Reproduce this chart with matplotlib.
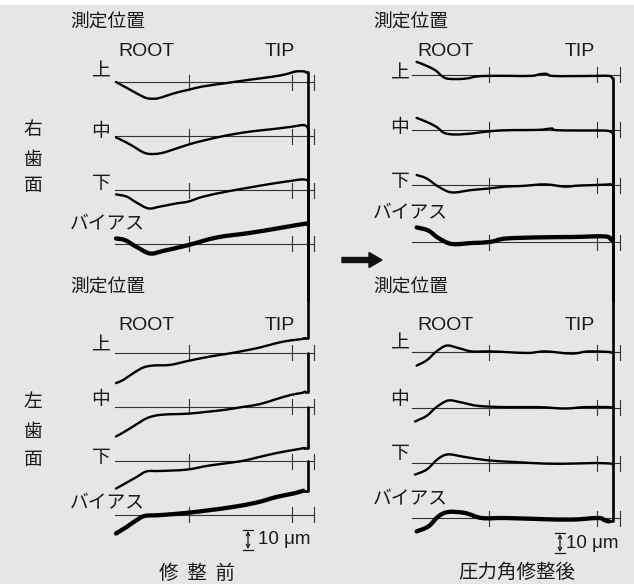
#!/usr/bin/env python3
"""Tooth profile traces before / after pressure angle correction."""

import numpy as np
import matplotlib
matplotlib.use("Agg")
import matplotlib.pyplot as plt
from matplotlib.patches import Rectangle, FancyArrow, PathPatch
from matplotlib.path import Path

JP = ["Noto Sans CJK JP", "DejaVu Sans"]
LAT = ["Liberation Sans", "Noto Sans CJK JP"]
INK = "#1a1a1a"

ROWS = ["上", "中", "下", "バイアス"]
TICKS_U = [0.37, 0.89, 1.0]

# profile deviation (um, + = up) along the roll length (0 = ROOT side, 1 = end)
# ---- before correction, right flank
pos_b_r_top = [0.0, 0.07, 0.14, 0.17, 0.21, 0.26, 0.31, 0.37, 0.44, 0.56, 0.68, 0.78, 0.85, 0.89, 0.91, 0.95, 0.96]
dev_b_r_top = [0.0, -3.8, -7.5, -8.3, -8.2, -6.7, -5.2, -3.8, -2.2, -0.5, 1.2, 2.5, 3.7, 4.8, 5.3, 5.3, 4.8]
pos_b_r_mid = [0.0, 0.054, 0.104, 0.138, 0.172, 0.222, 0.273, 0.365, 0.441, 0.559, 0.677, 0.778, 0.862, 0.912, 0.946, 0.966]
dev_b_r_mid = [-0.7, -3.3, -6.2, -8.2, -9.0, -8.7, -7.3, -4.3, -2.3, 0.3, 2.2, 3.3, 4.3, 5.0, 5.5, 4.7]
pos_b_r_low = [0.0, 0.054, 0.104, 0.163, 0.222, 0.306, 0.365, 0.441, 0.559, 0.677, 0.778, 0.879, 0.938, 0.963]
dev_b_r_low = [-2.2, -3.3, -6.3, -9.2, -8.3, -6.7, -5.8, -3.3, -0.8, 1.3, 3.0, 4.5, 5.3, 5.0]
pos_b_r_bias = [0.0, 0.045, 0.104, 0.172, 0.239, 0.365, 0.508, 0.677, 0.812, 0.912, 0.963]
dev_b_r_bias = [2.5, 1.7, -1.7, -5.0, -3.7, -0.8, 3.0, 5.3, 7.5, 9.2, 10.0]
# ---- before correction, left flank
pos_b_l_top = [0.0, 0.037, 0.088, 0.138, 0.189, 0.273, 0.365, 0.475, 0.559, 0.643, 0.727, 0.811, 0.879, 0.938, 0.951]
dev_b_l_top = [-15.3, -13.7, -10.3, -7.5, -6.5, -6.2, -4.2, -2.0, -0.7, 0.8, 2.5, 4.7, 6.0, 6.7, 7.2]
pos_b_l_mid = [0.0, 0.045, 0.086, 0.157, 0.222, 0.308, 0.374, 0.475, 0.561, 0.641, 0.727, 0.813, 0.884, 0.939, 0.955]
dev_b_l_mid = [-15.0, -12.5, -10.0, -5.8, -4.2, -3.8, -3.5, -2.5, -1.5, -0.2, 1.2, 3.8, 5.8, 6.8, 7.5]
pos_b_l_low = [0.0, 0.054, 0.104, 0.155, 0.222, 0.357, 0.475, 0.626, 0.711, 0.812, 0.913, 0.951]
dev_b_l_low = [-13.8, -10.8, -8.0, -5.2, -5.0, -4.3, -2.2, -0.2, 1.7, 4.0, 5.8, 6.5]
pos_b_l_bias = [0.0, 0.054, 0.104, 0.146, 0.222, 0.357, 0.475, 0.593, 0.711, 0.812, 0.896, 0.946]
dev_b_l_bias = [-9.5, -6.2, -2.8, -0.7, -0.3, 0.8, 2.2, 3.8, 6.0, 8.8, 10.5, 11.9]
# ---- after correction, right flank
pos_a_r_top = [0.02, 0.06, 0.109, 0.141, 0.165, 0.205, 0.262, 0.31, 0.374, 0.479, 0.576, 0.618, 0.648, 0.672, 0.769, 0.893, 0.95, 0.965]
dev_a_r_top = [6.3, 4.7, 2.2, -0.7, -2.0, -2.3, -2.0, -1.0, -0.7, -0.7, -0.7, 0.2, 0.3, -0.7, -0.8, -0.7, -0.7, -1.7]
pos_a_r_mid = [0.02, 0.068, 0.116, 0.153, 0.205, 0.286, 0.379, 0.479, 0.608, 0.672, 0.689, 0.8, 0.897, 0.946, 0.962]
dev_a_r_mid = [5.8, 3.8, 1.3, -1.7, -2.5, -2.0, -0.8, -0.3, -0.2, 0.5, -0.3, -0.5, -0.5, -0.7, -1.5]
pos_a_r_low = [0.02, 0.068, 0.125, 0.19, 0.286, 0.374, 0.447, 0.527, 0.64, 0.737, 0.8, 0.889, 0.953]
dev_a_r_low = [5.0, 3.3, -0.8, -3.7, -2.5, -1.7, -0.8, -0.5, 0.3, -0.8, -0.3, 0.0, 0.3]
pos_a_r_bias = [0.02, 0.077, 0.125, 0.19, 0.286, 0.374, 0.447, 0.608, 0.769, 0.93, 0.959]
dev_a_r_bias = [7.3, 5.7, 2.0, -1.0, -0.5, 0.0, 1.7, 2.3, 2.5, 2.8, 1.2]
# ---- after correction, left flank
pos_a_l_top = [0.02, 0.068, 0.116, 0.165, 0.221, 0.286, 0.374, 0.447, 0.559, 0.64, 0.769, 0.849, 0.953]
dev_a_l_top = [-6.8, -4.2, 0.3, 3.2, 2.0, 0.3, 0.3, 0.0, -0.5, 0.3, -0.8, 0.3, 0.0]
pos_a_l_mid = [0.012, 0.068, 0.116, 0.173, 0.237, 0.318, 0.447, 0.608, 0.737, 0.833, 0.953]
dev_a_l_mid = [-7.0, -4.2, 0.2, 3.5, 2.5, 0.8, 0.2, 0.2, -0.5, 0.2, 0.2]
pos_a_l_low = [0.012, 0.068, 0.125, 0.173, 0.254, 0.366, 0.495, 0.64, 0.769, 0.882, 0.962]
dev_a_l_low = [-5.8, -3.3, 2.2, 4.3, 3.0, 1.3, 0.5, -0.3, -0.3, 0.0, -0.3]
pos_a_l_bias = [0.02, 0.077, 0.125, 0.173, 0.254, 0.334, 0.447, 0.608, 0.769, 0.897, 0.93, 0.95]
dev_a_l_bias = [-6.7, -4.2, 0.8, 3.0, 2.5, 0.0, 0.0, -0.5, -0.8, 0.0, -1.2, -1.7]

# layout (pixels)
W, H = 634, 584
PX_PER_UM = 2.0
TAIL_U = 0.97
JOIN_Y = 300
FS = 13.5


def smooth_path(xs, ys):
    # Catmull-Rom through the read points, drawn as cubic Bezier segments
    pts = np.column_stack([xs, ys])
    n = len(pts)
    verts = [pts[0]]
    codes = [Path.MOVETO]
    for i in range(n - 1):
        p0 = pts[i - 1] if i > 0 else pts[i]
        p1 = pts[i]
        p2 = pts[i + 1]
        p3 = pts[i + 2] if i + 2 < n else pts[i + 1]
        verts += [p1 + (p2 - p0) / 6, p2 - (p3 - p1) / 6, p2]
        codes += [Path.CURVE4] * 3
    return Path(verts, codes)


def draw_trace(ax, x0, width, base, pos, dev, lw, tail_to):
    xs = [x0 + u * width for u in pos]
    ys = [base - d * PX_PER_UM for d in dev]
    ax.add_patch(PathPatch(smooth_path(xs, ys), fill=False, edgecolor="black",
                           lw=lw, capstyle="round", joinstyle="round", zorder=3))
    xt = x0 + TAIL_U * width
    ax.plot([xs[-1], xt, xt], [ys[-1], ys[-1], tail_to], color="black", lw=1.9,
            solid_capstyle="round", solid_joinstyle="round", zorder=3)


def draw_block(ax, x0, width, bases, traces, upper, label_x, label_ys,
               bias_x, head_y, root_x, tip_x, title_x, title_y):
    for i, base in enumerate(bases):
        ax.plot([x0 - 1, x0 + width], [base, base], color="#333333", lw=0.8, zorder=2)
        for u in TICKS_U:
            xt = x0 + u * width
            ax.plot([xt, xt], [base - 7.5, base + 7.5], color="#333333", lw=0.8, zorder=2)
        pos, dev = traces[i]
        if upper:
            tail_to = JOIN_Y
        else:
            tail_to = JOIN_Y if i == 0 else bases[i - 1]
        lw = 3.1 if ROWS[i] == "バイアス" else 1.7
        draw_trace(ax, x0, width, base, pos, dev, lw, tail_to)
        lx = bias_x if ROWS[i] == "バイアス" else label_x
        ax.text(lx, label_ys[i], ROWS[i], family=JP, fontsize=FS, color=INK,
                ha="center", va="center")
    ax.text(root_x, head_y, "ROOT", family=LAT, fontsize=14, color=INK,
            ha="center", va="center")
    ax.text(tip_x, head_y, "TIP", family=LAT, fontsize=14, color=INK,
            ha="center", va="center")
    ax.text(title_x, title_y, "測定位置", family=JP, fontsize=FS, color=INK,
            ha="center", va="center")


def scale_bar(ax, x, y_top, tx):
    y_bot = y_top + 10 * PX_PER_UM
    ax.annotate("", xy=(x, y_top + 1), xytext=(x, y_bot - 1),
                arrowprops=dict(arrowstyle="<->", lw=0.9, color=INK,
                                mutation_scale=6, shrinkA=0, shrinkB=0))
    ax.plot([x - 5, x + 5], [y_top, y_top], color=INK, lw=0.9)
    ax.plot([x - 5, x + 5], [y_bot, y_bot], color=INK, lw=0.9)
    ax.text(tx, (y_top + y_bot) / 2, "10 μm", family=LAT, fontsize=FS,
            color=INK, ha="left", va="center")


def main():
    fig = plt.figure(figsize=(W / 100, H / 100), dpi=100, facecolor="white")
    ax = fig.add_axes([0, 0, 1, 1])
    ax.set_xlim(0, W)
    ax.set_ylim(H, 0)
    ax.axis("off")
    ax.add_patch(Rectangle((0, 5), W, H - 5, facecolor="#e6e6e6",
                           edgecolor="none", zorder=0))

    # before correction
    draw_block(ax, 116, 198, [82, 136, 190, 243.5],
               [(pos_b_r_top, dev_b_r_top), (pos_b_r_mid, dev_b_r_mid),
                (pos_b_r_low, dev_b_r_low), (pos_b_r_bias, dev_b_r_bias)],
               True, 101, [71.5, 131, 184, 224], 107.5, 51, 146, 280, 108, 22)
    draw_block(ax, 116, 198, [352.5, 406.5, 461, 514.5],
               [(pos_b_l_top, dev_b_l_top), (pos_b_l_mid, dev_b_l_mid),
                (pos_b_l_low, dev_b_l_low), (pos_b_l_bias, dev_b_l_bias)],
               False, 101, [345, 400, 457, 503], 107.5, 325, 146, 280, 108, 287)
    # after correction
    draw_block(ax, 412.5, 207, [74.5, 129.5, 185, 242],
               [(pos_a_r_top, dev_a_r_top), (pos_a_r_mid, dev_a_r_mid),
                (pos_a_r_low, dev_a_r_low), (pos_a_r_bias, dev_a_r_bias)],
               True, 400, [73, 128, 182, 213], 410, 51, 445.5, 580, 411, 22)
    draw_block(ax, 412.5, 207, [352, 407.5, 463, 518],
               [(pos_a_l_top, dev_a_l_top), (pos_a_l_mid, dev_a_l_mid),
                (pos_a_l_low, dev_a_l_low), (pos_a_l_bias, dev_a_l_bias)],
               False, 400, [343, 399, 454, 499], 410, 325, 445.5, 580, 411, 287)

    # flank names
    for ch, y in zip("右歯面", [129, 159, 185]):
        ax.text(33, y, ch, family=JP, fontsize=FS, color=INK, ha="center", va="center")
    for ch, y in zip("左歯面", [402, 432, 459]):
        ax.text(33, y, ch, family=JP, fontsize=FS, color=INK, ha="center", va="center")

    # arrow between the two states
    ax.add_patch(FancyArrow(342, 260, 40, 0, width=5, head_width=15,
                            head_length=13, length_includes_head=True,
                            color="#111111", zorder=3))

    scale_bar(ax, 248, 530, 258)
    scale_bar(ax, 560, 533, 566)

    ax.text(197, 573, "修  整  前", family=JP, fontsize=14, color=INK,
            ha="center", va="center")
    ax.text(517, 572, "圧力角修整後", family=JP, fontsize=14, color=INK,
            ha="center", va="center")

    fig.savefig("out.png", dpi=100, facecolor="white")


if __name__ == "__main__":
    main()
